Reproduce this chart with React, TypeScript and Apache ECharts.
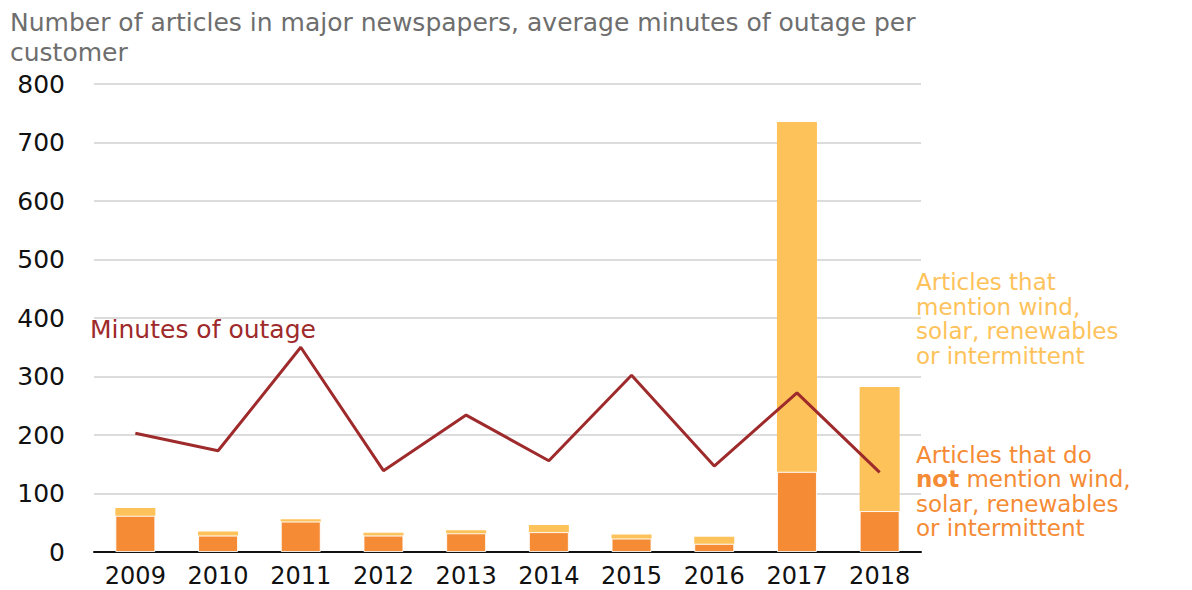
import React, { useEffect, useRef } from "react";
import * as echarts from "echarts";

const years = ["2009", "2010", "2011", "2012", "2013", "2014", "2015", "2016", "2017", "2018"];
const notMentionArticles = [62, 28, 52, 28, 32, 34, 23, 14, 137, 70];
const mentionArticles = [13, 7, 4, 5, 5, 12, 7, 12, 598, 212];
const outageMinutes = [203, 173, 350, 139, 234, 156, 302, 147, 272, 136];
const yTicks = { min: 0, max: 800, interval: 100 };

const FONT = "DejaVu Sans";
const ORANGE = "#F58B34";
const YELLOW = "#FEC25A";
const RED = "#9E2A2B";

export default function App() {
  const ref = useRef<HTMLDivElement>(null);
  useEffect(() => {
    if (!ref.current) return;
    const chart = echarts.init(ref.current, null, { renderer: "svg" });
    chart.setOption({
      animation: false,
      textStyle: { fontFamily: FONT },
      grid: { left: 94, right: 271, top: 84, bottom: 38, containLabel: false },
      xAxis: {
        type: "category",
        data: years,
        axisLine: { lineStyle: { color: "#111", width: 2 } },
        axisTick: { show: false },
        axisLabel: { interval: 0, fontSize: 24, color: "#111", margin: 12, fontFamily: FONT },
      },
      yAxis: {
        type: "value",
        min: yTicks.min,
        max: yTicks.max,
        interval: yTicks.interval,
        axisLine: { show: false },
        axisTick: { show: false },
        axisLabel: { fontSize: 25, color: "#111", margin: 29, fontFamily: FONT },
        splitLine: { lineStyle: { color: "#d0d0d0", width: 1.5 } },
      },
      series: [
        {
          name: "Articles that do not mention wind, solar, renewables or intermittent",
          type: "bar",
          stack: "articles",
          data: notMentionArticles,
          barWidth: 40,
          itemStyle: { color: ORANGE, borderColor: "rgba(255,255,255,0.85)", borderWidth: 1 },
        },
        {
          name: "Articles that mention wind, solar, renewables or intermittent",
          type: "bar",
          stack: "articles",
          data: mentionArticles,
          barWidth: 40,
          itemStyle: { color: YELLOW },
        },
        {
          name: "Minutes of outage",
          type: "line",
          data: outageMinutes,
          symbol: "none",
          z: 5,
          lineStyle: { color: RED, width: 3 },
        },
      ],
      graphic: [
        {
          type: "text",
          left: 10,
          top: 7,
          style: {
            text: "Number of articles in major newspapers, average minutes of outage per\ncustomer",
            fontSize: 25,
            lineHeight: 30,
            fill: "#6e6e6e",
            fontFamily: FONT,
          },
        },
        {
          type: "text",
          left: 90,
          top: 317,
          style: {
            text: "Minutes of outage",
            fontSize: 25,
            fill: RED,
            fontFamily: FONT,
          },
        },
        {
          type: "text",
          left: 916,
          top: 270,
          style: {
            text: "Articles that\nmention wind,\nsolar, renewables\nor intermittent",
            fontSize: 23,
            lineHeight: 24.5,
            fill: YELLOW,
            fontFamily: FONT,
          },
        },
        {
          type: "text",
          left: 916,
          top: 443,
          style: {
            text: "{n|Articles that do}\n{b|not}{n| mention wind,}\n{n|solar, renewables}\n{n|or intermittent}",
            fontFamily: FONT,
            rich: {
              n: { fontSize: 23, lineHeight: 24.5, fill: ORANGE, fontFamily: FONT },
              b: { fontSize: 23, lineHeight: 24.5, fill: ORANGE, fontWeight: "bold", fontFamily: FONT },
            },
          },
        },
      ],
    });
    return () => chart.dispose();
  }, []);
  return (
    <div
      ref={ref}
      style={{ position: "fixed", left: 0, top: 0, width: 1192, height: 590, background: "#fff" }}
    />
  );
}
